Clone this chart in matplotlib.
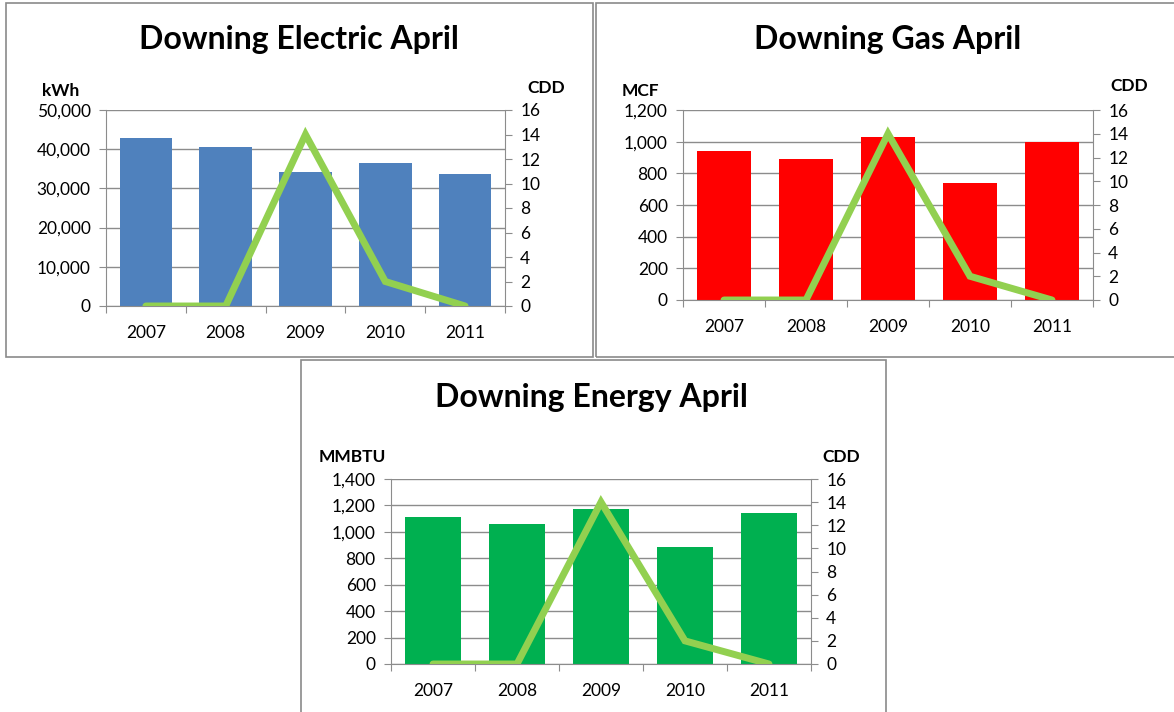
import matplotlib.pyplot as plt
from matplotlib.patches import Rectangle
from matplotlib.ticker import FuncFormatter

# Dados
anos = ['2007', '2008', '2009', '2010', '2011']
cdd = [0, 0, 14, 2, 0]
eletrico_kwh = [42850, 40480, 34270, 36400, 33590]
gas_mcf = [941, 891, 1028, 740, 1000]
energia_mmbtu = [1114, 1059, 1173, 884, 1142]

W, H = 1174, 712
plt.rcParams['font.family'] = ['Lato', 'DejaVu Sans']

fig = plt.figure(figsize=(W / 100, H / 100), dpi=100)
fig.patch.set_facecolor('white')

cor_grade = '#8c8c8c'
cor_linha = '#92D050'


def rect_px(l, t, r, b):
    """Converte pixels (esq, topo, dir, baixo) em coordenadas da figura."""
    return [l / W, 1 - b / H, (r - l) / W, (b - t) / H]


def moldura(l, t, r, b):
    fig.add_artist(Rectangle((l / W, 1 - b / H), (r - l) / W, (b - t) / H,
                             transform=fig.transFigure, fill=False,
                             edgecolor='#8a8a8a', linewidth=1.2))


def painel(box, valores, cor, ymax, ystep, titulo, unidade, titulo_xy,
           unidade_xy, cdd_xy):
    l, t, r, b = box
    ax = fig.add_axes(rect_px(l, t, r, b))
    x = list(range(len(anos)))

    ax.set_axisbelow(True)
    ax.bar(x, valores, width=0.66, color=cor, zorder=2)
    ax.set_xlim(-0.5, len(anos) - 0.5)
    ax.set_ylim(0, ymax)
    ax.set_yticks(range(0, ymax + 1, ystep))
    ax.yaxis.set_major_formatter(FuncFormatter(lambda v, p: f'{int(v):,}'))
    ax.grid(axis='y', color=cor_grade, linewidth=1.0, zorder=0)

    # ticks do eixo x nas divisas, rotulos no centro
    ax.set_xticks([i - 0.5 for i in range(len(anos) + 1)])
    ax.set_xticklabels([])
    ax.set_xticks(x, minor=True)
    ax.set_xticklabels(anos, minor=True)
    ax.tick_params(axis='x', which='major', length=5, color=cor_grade, direction='out')
    ax.tick_params(axis='x', which='minor', length=0, pad=14, labelsize=12.5)
    ax.tick_params(axis='y', length=5, color=cor_grade, labelsize=12.5, pad=6)

    for lado in ['top', 'right']:
        ax.spines[lado].set_visible(False)
    for lado in ['left', 'bottom']:
        ax.spines[lado].set_color(cor_grade)

    # eixo secundario CDD
    ax2 = ax.twinx()
    ax2.plot(x, cdd, color=cor_linha, linewidth=5, solid_capstyle='round',
             solid_joinstyle='miter', zorder=3)
    ax2.set_ylim(0, 16)
    ax2.set_yticks(range(0, 17, 2))
    ax2.tick_params(axis='y', length=5, color=cor_grade, labelsize=12.5, pad=6)
    for lado in ['top', 'left', 'bottom']:
        ax2.spines[lado].set_visible(False)
    ax2.spines['right'].set_color(cor_grade)

    fig.text(titulo_xy[0] / W, 1 - titulo_xy[1] / H, titulo, ha='center',
             va='center', fontsize=23, fontweight='bold')
    fig.text(unidade_xy[0] / W, 1 - unidade_xy[1] / H, unidade, ha='center',
             va='center', fontsize=12.5, fontweight='bold')
    fig.text(cdd_xy[0] / W, 1 - cdd_xy[1] / H, 'CDD', ha='center',
             va='center', fontsize=12.5, fontweight='bold')


# molduras dos tres graficos
moldura(6, 3, 593, 357)
moldura(596, 3, 1180, 357)
moldura(301, 360, 886, 720)

painel((106, 110, 505, 306), eletrico_kwh, '#4F81BD', 50000, 10000,
       'Downing Electric April', 'kWh', (299, 40), (61, 91), (546, 88))
painel((683, 110, 1093, 300), gas_mcf, '#FF0000', 1200, 200,
       'Downing Gas April', 'MCF', (888, 40), (640, 91), (1129, 86))
painel((391, 479, 811, 664), energia_mmbtu, '#00B050', 1400, 200,
       'Downing Energy April', 'MMBTU', (591, 398), (352, 457), (841, 457))

fig.savefig('out.png', dpi=100, facecolor='white')
